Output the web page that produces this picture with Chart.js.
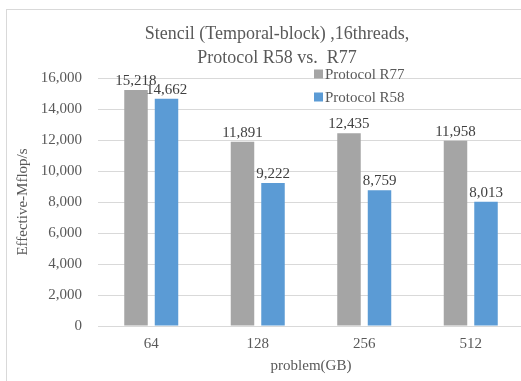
<!DOCTYPE html>
<html>
<head>
<meta charset="utf-8">
<script src="https://cdn.jsdelivr.net/npm/chart.js@4.4.1/dist/chart.umd.min.js"></script>
<style>
  html, body { margin: 0; padding: 0; background: #fff; }
  body { width: 521px; height: 381px; overflow: hidden; position: relative; }
  #box { position: absolute; left: 6px; top: 9px; width: 540px; height: 380px;
         border-left: 1px solid #d9d9d9; border-top: 1px solid #d9d9d9; }
</style>
</head>
<body>
<div id="box"><canvas id="chart" width="540" height="380"></canvas></div>
<script>
const categories = ["64", "128", "256", "512"];
const seriesNames = ["Protocol R77", "Protocol R58"];
const r77Values = [15218, 11891, 12435, 11958];
const r58Values = [14662, 9222, 8759, 8013];
const yTicks = [0, 2000, 4000, 6000, 8000, 10000, 12000, 14000, 16000];
const titleLines = ["Stencil (Temporal-block) ,16threads,", "Protocol R58 vs.  R77"];

const FONT = '"Liberation Serif", "Times New Roman", serif';
const TEXT = "#595959";

const fmt = v => v.toLocaleString("en-US");

// title centred on the whole chart box (the box runs past the window edge)
const boxTitle = {
  id: "boxTitle",
  afterDraw(chart) {
    const ctx = chart.ctx;
    ctx.save();
    ctx.font = "18px " + FONT;
    ctx.fillStyle = TEXT;
    ctx.textAlign = "center";
    ctx.textBaseline = "middle";
    titleLines.forEach((line, i) => ctx.fillText(line, 270, 24 + i * 24));
    ctx.restore();
  }
};

// value labels over bars
const barLabels = {
  id: "barLabels",
  afterDatasetsDraw(chart) {
    const ctx = chart.ctx;
    ctx.save();
    ctx.font = "15px " + FONT;
    ctx.fillStyle = "#404040";
    ctx.textAlign = "center";
    ctx.textBaseline = "alphabetic";
    chart.data.datasets.forEach((ds, i) => {
      chart.getDatasetMeta(i).data.forEach((bar, j) => {
        ctx.fillText(fmt(ds.data[j]), bar.x, bar.y - 5);
      });
    });
    ctx.restore();
  }
};

// excel style legend sitting inside the plot
const boxLegend = {
  id: "boxLegend",
  afterDraw(chart) {
    const ctx = chart.ctx;
    ctx.save();
    ctx.font = "15px " + FONT;
    ctx.textBaseline = "middle";
    chart.data.datasets.forEach((ds, i) => {
      const y = 64 + i * 23;
      ctx.fillStyle = ds.backgroundColor;
      ctx.fillRect(307, y - 4.5, 9, 9);
      ctx.fillStyle = TEXT;
      ctx.fillText(ds.label, 318, y + 1);
    });
    ctx.restore();
  }
};

new Chart(document.getElementById("chart"), {
  type: "bar",
  data: {
    labels: categories,
    datasets: [
      { label: seriesNames[0], data: r77Values, backgroundColor: "#a5a5a5" },
      { label: seriesNames[1], data: r58Values, backgroundColor: "#5b9bd5" }
    ]
  },
  options: {
    responsive: false,
    animation: false,
    layout: { padding: { left: 0, right: 23, top: 68, bottom: 0 } },
    datasets: { bar: { categoryPercentage: 0.573, barPercentage: 0.77 } },
    plugins: {
      legend: { display: false },
      tooltip: { enabled: false },
      title: { display: false }
    },
    scales: {
      x: {
        grid: { display: false, drawTicks: false },
        border: { display: true, color: "#d9d9d9" },
        ticks: { color: TEXT, font: { family: FONT, size: 15 }, padding: 9 },
        title: {
          display: true, text: "problem(GB)", color: TEXT,
          font: { family: FONT, size: 15 }, padding: { top: 0, bottom: 15 }
        },
        afterFit: s => { s.height = 64; }
      },
      y: {
        min: 0, max: 16000,
        afterBuildTicks: s => { s.ticks = yTicks.map(v => ({ value: v })); },
        grid: { color: "#d9d9d9", drawTicks: false },
        border: { display: false },
        ticks: { color: TEXT, font: { family: FONT, size: 15 }, padding: 16, callback: v => fmt(v) },
        title: {
          display: true, text: "Effective-Mflop/s", color: TEXT,
          font: { family: FONT, size: 15 }, padding: { top: 7, bottom: 0 }
        },
        afterFit: s => { s.width = 91; }
      }
    }
  },
  plugins: [barLabels, boxLegend, boxTitle]
});
</script>
</body>
</html>
